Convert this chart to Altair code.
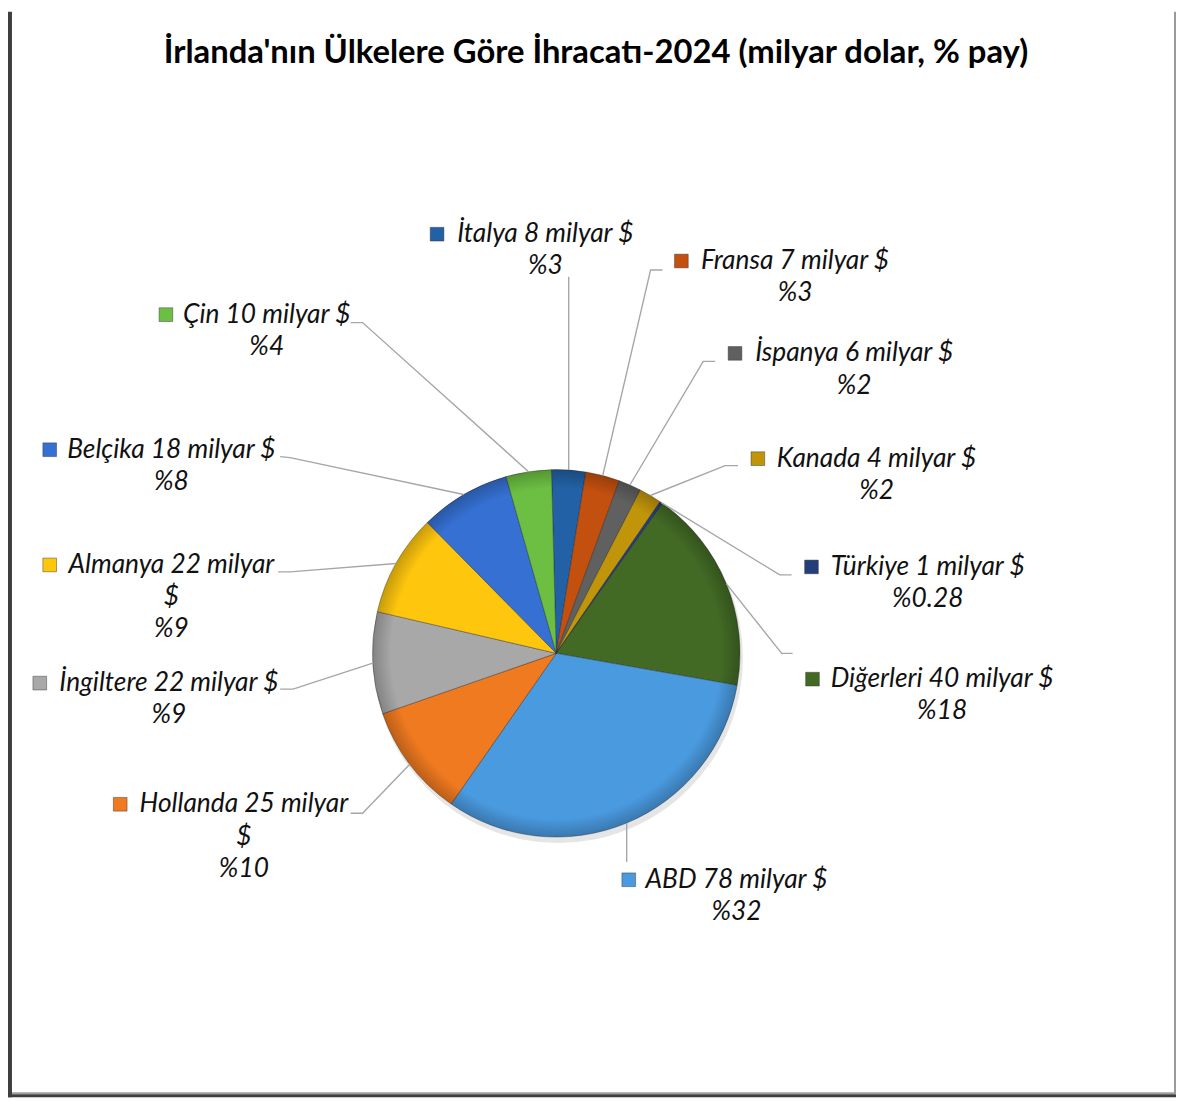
import math
import pandas as pd
import altair as alt

# ---------------- data ----------------
countries = ["İtalya", "Fransa", "İspanya", "Kanada", "Türkiye", "Diğerleri",
             "ABD", "Hollanda", "İngiltere", "Almanya", "Belçika", "Çin"]
values_bn = [8, 7, 6, 4, 1, 40, 78, 25, 22, 22, 18, 10]
shares = [3, 3, 2, 2, 0.28, 18, 32, 10, 9, 9, 8, 4]
share_text = ["3", "3", "2", "2", "0.28", "18", "32", "10", "9", "9", "8", "4"]
colors = ["#2261A5", "#C4500F", "#606060", "#C1950A", "#233F7A", "#426A25",
          "#4A9AE0", "#F07A20", "#A8A8A8", "#FFC60E", "#3570D2", "#6CBF42"]
TITLE = "İrlanda'nın Ülkelere Göre İhracatı-2024 (milyar dolar, % pay)"

# ---------------- layout (page pixels) ----------------
W, H = 1176, 1093
ORIGIN = 8
CX, CY, R = 560, 654, 185
START = 2 * math.pi - math.radians(1.5)
FONT = "Lato"

label_left = [462, 708, 762, 785, 839, 840, 655, 143, 62, 72, 72, 189]
label_right = [636, 893, 958, 980, 1029, 1057, 828, 348, 278, 273, 273, 348]
label_y = [232, 259, 352, 458, 567, 680, 882, 806, 684, 565, 449, 313]
LINE_GAP = 32.5
wrapped = {"Almanya", "Hollanda"}
leader_elbow = [None, (655, 268), (708, 360), (730, 465), (785, 575), (787, 654),
                None, (365, 815), (295, 690), (292, 572), (292, 457), (365, 321)]
leader_end = [(None, 275), (667, 268), (720, 360), (743, 465), (797, 575), (798, 654),
              (None, 864), (353, 815), (282, 690), (280, 572), (282, 456), (353, 321)]

xs = alt.Scale(domain=[ORIGIN, ORIGIN + W], range=[0, W], nice=False, zero=False)
ys = alt.Scale(domain=[ORIGIN, ORIGIN + H], range=[0, H], nice=False, zero=False)
color_scale = alt.Scale(domain=countries, range=colors)
total = sum(shares)

# ---------------- tables ----------------
pie_df = pd.DataFrame({"country": countries, "share": shares, "idx": list(range(len(countries)))})

line_rows, text_rows, marker_rows = [], [], []
cum = 0.0
for i, c in enumerate(countries):
    mid = START + (cum + shares[i] / 2) / total * 2 * math.pi
    cum += shares[i]
    ex, ey = CX + R * math.sin(mid), CY - R * math.cos(mid)
    pts = [(ex, ey)]
    if leader_elbow[i] is not None:
        pts.append(leader_elbow[i])
    endx, endy = leader_end[i]
    pts.append((ex if endx is None else endx, endy))
    for k, (px, py) in enumerate(pts):
        line_rows.append({"country": c, "pt": k, "x": px, "y": py})

    first = f"{c} {values_bn[i]} milyar $"
    lines = [first, f"%{share_text[i]}"]
    if c in wrapped:
        lines = [f"{c} {values_bn[i]} milyar", "$", f"%{share_text[i]}"]
    midx = (label_left[i] + label_right[i]) / 2
    for k, t in enumerate(lines):
        text_rows.append({"country": c, "x": midx, "y": label_y[i] + k * LINE_GAP, "text": t})
    marker_rows.append({"country": c, "x": label_left[i] - 22, "y": label_y[i]})

line_df = pd.DataFrame(line_rows)
text_df = pd.DataFrame(text_rows)
marker_df = pd.DataFrame(marker_rows)
one = pd.DataFrame({"k": [0]})

# ---------------- layers ----------------
shadow = alt.Chart(one).mark_arc(radius=R + 1, fill="#000000", opacity=0.10).encode(
    x=alt.value(CX - ORIGIN + 2), y=alt.value(CY - ORIGIN + 5),
    theta=alt.value(0), theta2=alt.value(2 * math.pi))

pie = alt.Chart(pie_df).mark_arc(radius=R, stroke="#1a1a1a", strokeOpacity=0.35, strokeWidth=1).encode(
    theta=alt.Theta("share:Q", stack=True,
                    scale=alt.Scale(domain=[0, total], range=[START, START + 2 * math.pi], nice=False)),
    order=alt.Order("idx:Q"),
    color=alt.Color("country:N", scale=color_scale, legend=None),
    x=alt.value(CX - ORIGIN), y=alt.value(CY - ORIGIN))

rim = alt.Chart(one).mark_arc(
    radius=R,
    fill=alt.RadialGradient(gradient="radial", stops=[
        alt.GradientStop(offset=0, color="rgba(0,0,0,0)"),
        alt.GradientStop(offset=0.9, color="rgba(0,0,0,0)"),
        alt.GradientStop(offset=1, color="rgba(0,0,0,0.22)")])
).encode(x=alt.value(CX - ORIGIN), y=alt.value(CY - ORIGIN),
         theta=alt.value(0), theta2=alt.value(2 * math.pi))

leaders = alt.Chart(line_df).mark_line(color="#A6A6A6", strokeWidth=1.4).encode(
    x=alt.X("x:Q", scale=xs, axis=None),
    y=alt.Y("y:Q", scale=ys, axis=None),
    detail="country:N",
    order="pt:Q")

labels = alt.Chart(text_df).mark_text(font=FONT, fontSize=26.5, fontStyle="italic",
                                      color="#111111", align="center", baseline="middle").encode(
    x=alt.X("x:Q", scale=xs, axis=None),
    y=alt.Y("y:Q", scale=ys, axis=None),
    text="text:N")

markers = alt.Chart(marker_df).mark_square(size=190, opacity=1, stroke="#333333",
                                           strokeOpacity=0.45, strokeWidth=1).encode(
    x=alt.X("x:Q", scale=xs, axis=None),
    y=alt.Y("y:Q", scale=ys, axis=None),
    color=alt.Color("country:N", scale=color_scale, legend=None))

title = alt.Chart(one).mark_text(text=TITLE, font=FONT, fontSize=33, fontWeight="bold",
                                 color="#000000", align="center", baseline="middle").encode(
    x=alt.value(600 - ORIGIN), y=alt.value(50 - ORIGIN))

frame_left = alt.Chart(one).mark_rect(color="#3F3F3F").encode(
    x=alt.value(0), x2=alt.value(4), y=alt.value(0), y2=alt.value(H))
frame_bottom = alt.Chart(one).mark_rect(color="#3F3F3F").encode(
    x=alt.value(0), x2=alt.value(W), y=alt.value(H - 3), y2=alt.value(H))
frame_bottom2 = alt.Chart(one).mark_rect(color="#A0A0A0").encode(
    x=alt.value(4), x2=alt.value(W), y=alt.value(H - 5), y2=alt.value(H - 3))
frame_right = alt.Chart(one).mark_rect(color="#9A9A9A").encode(
    x=alt.value(W - 2), x2=alt.value(W), y=alt.value(0), y2=alt.value(H - 3))

chart = alt.layer(
    shadow, pie, rim, leaders, markers, labels, title,
    frame_left, frame_bottom2, frame_bottom, frame_right
).properties(
    width=W, height=H, padding=0,
    autosize=alt.AutoSizeParams(type="none"),
    background="#FFFFFF"
).configure_view(stroke=None)

chart.save("out.html", embed_options={"renderer": "svg", "actions": False})
